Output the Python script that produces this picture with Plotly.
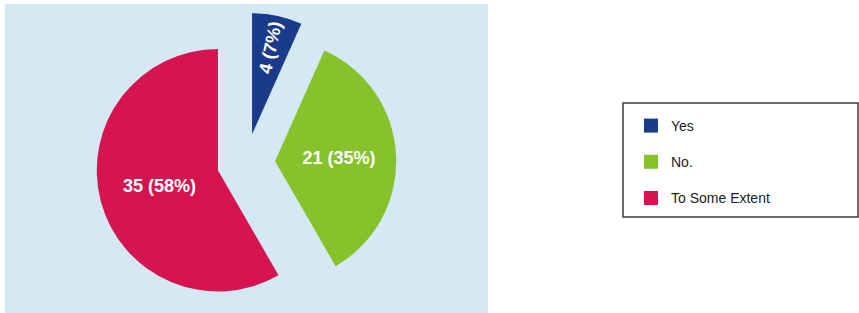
import plotly.graph_objects as go

labels = ["Yes", "No.", "To Some Extent"]
values = [4, 21, 35]
colors = ["#1A3A8A", "#86C22A", "#D6144F"]
pulls = [0.24, 0.24, 0.24]

W, H = 859, 313

fig = go.Figure()
fig.add_trace(go.Pie(
    labels=labels,
    values=values,
    sort=False,
    direction="clockwise",
    rotation=0,
    pull=pulls,
    marker=dict(colors=colors, line=dict(width=0)),
    texttemplate="%{value} (%{percent:.0%})",
    textposition="inside",
    insidetextorientation="auto",
    textfont=dict(family="Liberation Sans, Arial, sans-serif", size=18,
                  color="white", weight="bold"),
    domain=dict(x=[0.0864, 0.4864], y=[0.0, 0.96]),
    hoverinfo="skip",
    showlegend=False,
))

# legend entries (one per category, spaced like the reference legend)
for i, (lab, col) in enumerate(zip(labels, colors)):
    fig.add_trace(go.Scatter(
        x=[None], y=[None], mode="markers", name=lab,
        marker=dict(color=col, symbol="square", size=14, line=dict(width=0)),
        legendgroup=f"g{i}", showlegend=True, hoverinfo="skip",
    ))

fig.update_layout(
    width=W, height=H,
    margin=dict(l=0, r=0, t=0, b=0),
    paper_bgcolor="white",
    plot_bgcolor="rgba(0,0,0,0)",
    xaxis=dict(visible=False),
    yaxis=dict(visible=False),
    uniformtext=dict(minsize=18, mode="show"),
    shapes=[
        dict(type="rect", xref="paper", yref="paper", layer="below",
             x0=5 / W, x1=488 / W, y0=0, y1=1 - 4 / H,
             fillcolor="#D5E9F4", line=dict(width=0)),
        dict(type="rect", xref="paper", yref="paper",
             x0=623 / W, x1=858 / W, y0=1 - 217 / H, y1=1 - 103 / H,
             fillcolor="rgba(0,0,0,0)", line=dict(color="#3A3A3A", width=1.5)),
    ],
    legend=dict(
        x=631 / W, xanchor="left",
        y=1 - 110 / H, yanchor="top",
        bgcolor="rgba(0,0,0,0)", borderwidth=0,
        font=dict(family="Liberation Sans, Arial, sans-serif", size=14, color="#222222"),
        traceorder="grouped", tracegroupgap=15,
    ),
    showlegend=True,
)

fig.write_html(
    "out.html",
    config={"displayModeBar": False},
    post_script="document.body.style.margin='0';document.body.style.overflow='hidden';",
)
